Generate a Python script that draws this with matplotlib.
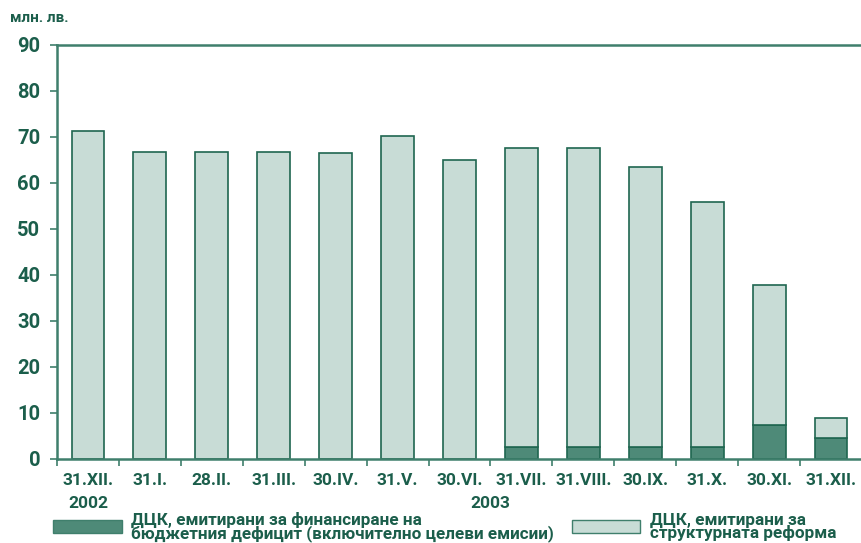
import numpy as np
import matplotlib
matplotlib.use('Agg')
from matplotlib import pyplot as plt
from matplotlib.patches import Rectangle

# data (млн. лв.)
dates = ['31.XII.', '31.I.', '28.II.', '31.III.', '30.IV.', '31.V.', '30.VI.',
         '31.VII.', '31.VIII.', '30.IX.', '31.X.', '30.XI.', '31.XII.']
totals = [71.3, 66.8, 66.8, 66.7, 66.6, 70.3, 65.0, 67.5, 67.6, 63.5, 55.9, 37.9, 9.0]
deficit = [0, 0, 0, 0, 0, 0, 0, 2.6, 2.6, 2.6, 2.6, 7.4, 4.5]
reform = [t - d for t, d in zip(totals, deficit)]

txt_color = '#1b5e4b'
axis_color = '#3f7f6c'
dark_fill = '#4e8a78'
light_fill = '#c8dcd6'
edge_color = '#1f6650'
font = ['Roboto', 'DejaVu Sans']
fw = 'semibold'

fig = plt.figure(figsize=(8.62, 5.43), dpi=100)
ax = fig.add_axes([57/862, 1-459/543, 1-57/862, (459-45)/543])

x = np.arange(len(dates))
w = 0.53
ax.bar(x, deficit, w, color=dark_fill, edgecolor=edge_color, linewidth=1.2)
ax.bar(x, reform, w, bottom=deficit, color=light_fill, edgecolor=edge_color, linewidth=1.2)

ax.set_xlim(-0.5, len(dates) - 0.5)
ax.set_ylim(0, 90)
ax.set_yticks(range(0, 91, 10))
ax.set_xticks(np.arange(len(dates) + 1) - 0.5)
ax.set_xticklabels([])
ax.tick_params(axis='x', direction='out', length=5, color=axis_color, width=1.2)
ax.tick_params(axis='y', direction='out', length=5, color=axis_color, width=1.2,
               labelcolor=txt_color, labelsize=14.5, pad=7)
for lab in ax.get_yticklabels():
    lab.set_fontweight(fw)
    lab.set_family(font)

for s in ['left', 'bottom', 'top']:
    ax.spines[s].set_color(axis_color)
    ax.spines[s].set_linewidth(1.8)
ax.spines['right'].set_visible(False)

for i, d in enumerate(dates):
    ax.text(i, -3.0, d, ha='center', va='top', fontsize=12.5, color=txt_color,
            fontweight=fw, family=font)
ax.text(0, -8.1, '2002', ha='center', va='top', fontsize=12.5, color=txt_color,
        fontweight=fw, family=font)
ax.text(6.5, -8.1, '2003', ha='center', va='top', fontsize=12.5, color=txt_color,
        fontweight=fw, family=font)

fig.text(10/862, 1-18/543, 'млн. лв.', ha='left', va='center', fontsize=11,
         color=txt_color, fontweight=fw, family=font)

# legend
fig.patches.append(Rectangle((53/862, 1-533/543), 69/862, 13/543,
                             transform=fig.transFigure, facecolor=dark_fill,
                             edgecolor=axis_color, linewidth=1))
fig.text(131/862, 1-527/543, 'ДЦК, емитирани за финансиране на\nбюджетния дефицит (включително целеви емисии)',
         ha='left', va='center', fontsize=12.3, color=txt_color, fontweight=fw,
         family=font, linespacing=0.82)
fig.patches.append(Rectangle((572/862, 1-533/543), 68/862, 13/543,
                             transform=fig.transFigure, facecolor=light_fill,
                             edgecolor=axis_color, linewidth=1))
fig.text(650/862, 1-527/543, 'ДЦК, емитирани за\nструктурната реформа',
         ha='left', va='center', fontsize=12.3, color=txt_color, fontweight=fw,
         family=font, linespacing=0.82)

fig.savefig('out.png', dpi=100)
